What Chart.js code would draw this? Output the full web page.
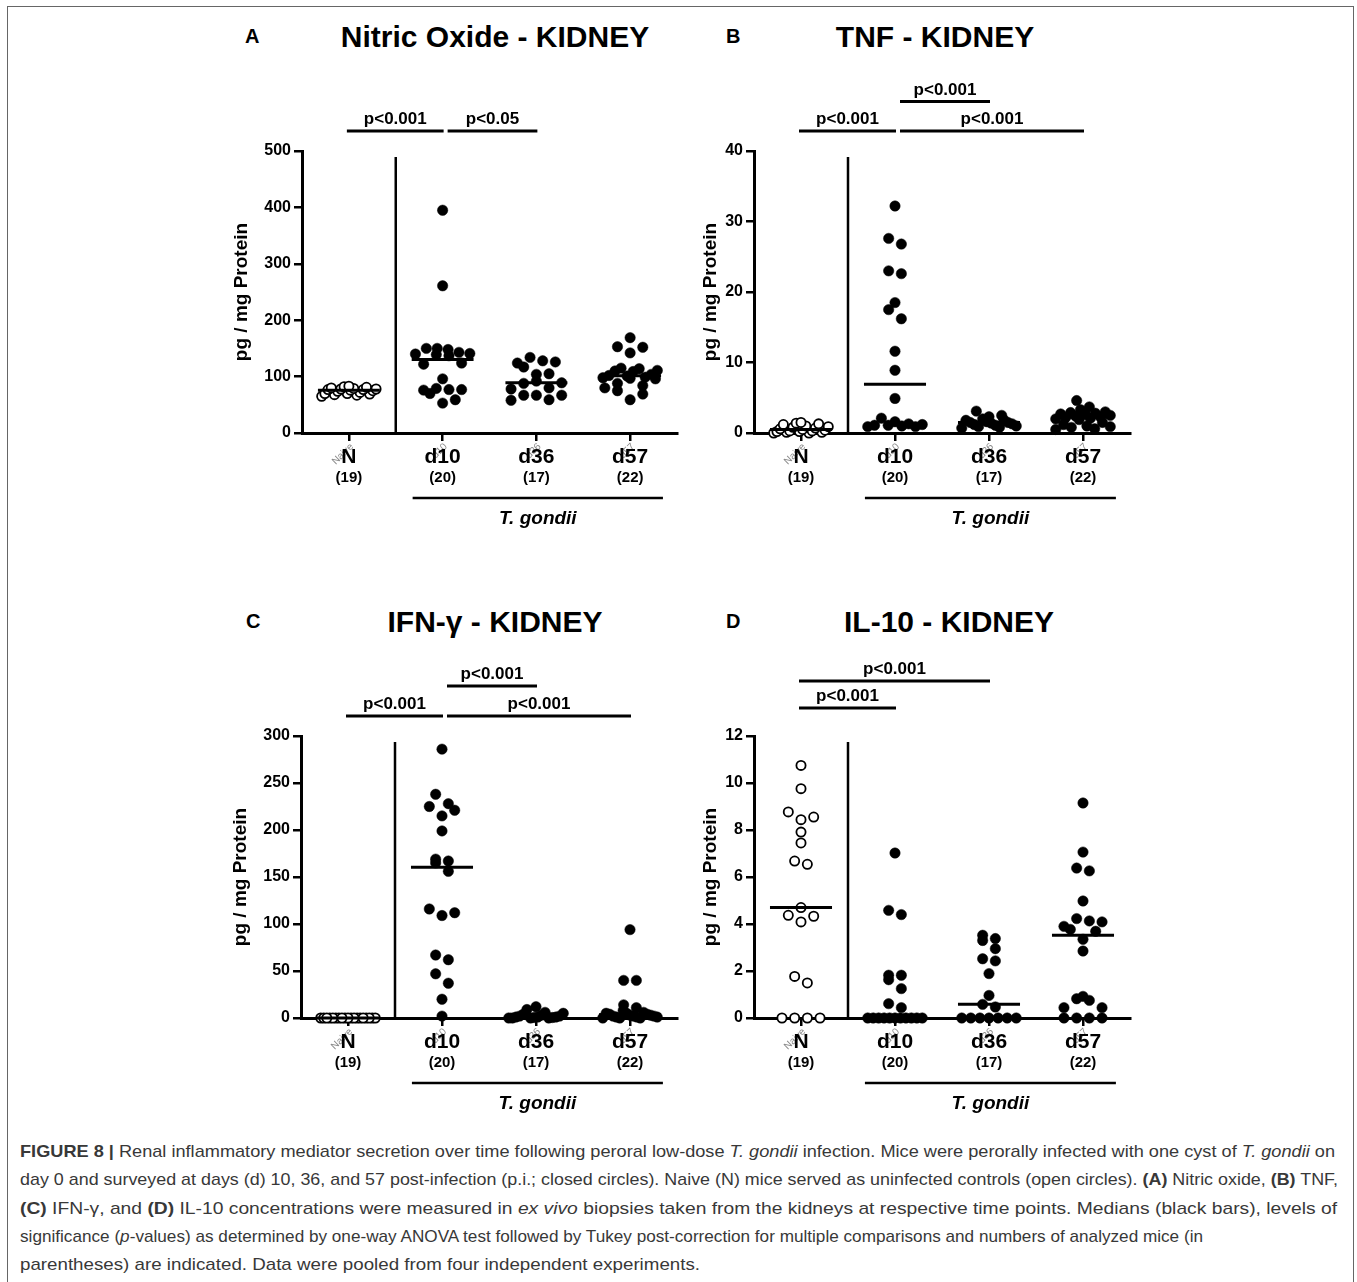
<!DOCTYPE html>
<html>
<head>
<meta charset="utf-8">
<script src="https://cdn.jsdelivr.net/npm/chart.js@4.4.0/dist/chart.umd.min.js"></script>
<style>
  html, body { margin: 0; padding: 0; background: #fff; overflow: hidden; }
  body { width: 1357px; height: 1282px; position: relative; font-family: "Liberation Sans", Arial, sans-serif; color: #000; }
  #frame { position: absolute; left: 7px; top: 6px; width: 1347px; height: 1320px; box-sizing: border-box; border: 1.5px solid #666; border-bottom: none; }
  canvas { position: absolute; }
  .letter { position: absolute; font-weight: bold; font-size: 20px; line-height: 20px; }
  .title { position: absolute; width: 400px; text-align: center; font-weight: bold; font-size: 30px; line-height: 30px; white-space: nowrap; }
  #caption { position: absolute; left: 20px; top: 1138px; color: #383838; font-size: 17px; }
  #caption div { white-space: nowrap; height: 28.3px; line-height: 28.3px; transform-origin: 0 0; display: table; }
</style>
</head>
<body>
<div id="frame"></div>

<div class="letter" style="left:245px; top:26px;">A</div>
<div class="title" style="left:295px; top:22px;">Nitric Oxide - KIDNEY</div>
<div class="letter" style="left:726px; top:26px;">B</div>
<div class="title" style="left:735px; top:22px;">TNF - KIDNEY</div>
<div class="letter" style="left:246px; top:611px;">C</div>
<div class="title" style="left:295px; top:607px;">IFN-γ - KIDNEY</div>
<div class="letter" style="left:726px; top:611px;">D</div>
<div class="title" style="left:749px; top:607px;">IL-10 - KIDNEY</div>

<canvas id="chartA" width="500" height="480" style="left:200px; top:60px;"></canvas>
<canvas id="chartB" width="500" height="480" style="left:650px; top:60px;"></canvas>
<canvas id="chartC" width="500" height="480" style="left:200px; top:645px;"></canvas>
<canvas id="chartD" width="500" height="480" style="left:650px; top:645px;"></canvas>

<div id="caption">
  <div><b>FIGURE 8 |</b> Renal inflammatory mediator secretion over time following peroral low-dose <i>T. gondii</i> infection. Mice were perorally infected with one cyst of <i>T. gondii</i> on</div>
  <div>day 0 and surveyed at days (d) 10, 36, and 57 post-infection (p.i.; closed circles). Naive (N) mice served as uninfected controls (open circles). <b>(A)</b> Nitric oxide, <b>(B)</b> TNF,</div>
  <div><b>(C)</b> IFN-γ, and <b>(D)</b> IL-10 concentrations were measured in <i>ex vivo</i> biopsies taken from the kidneys at respective time points. Medians (black bars), levels of</div>
  <div>significance (<i>p</i>-values) as determined by one-way ANOVA test followed by Tukey post-correction for multiple comparisons and numbers of analyzed mice (in</div>
  <div>parentheses) are indicated. Data were pooled from four independent experiments.</div>
</div>

<script>
const categories = ['N', 'd10', 'd36', 'd57'];
const rawLabels = ['Naive', 'd10', 'd36', 'd57'];

// A - nitric oxide (pg / mg protein)
const noN = [83, 82, 81, 80, 79, 78, 78, 77, 77, 76, 75, 74, 72, 70, 70, 69, 68, 67, 65];
const noD10 = [395, 261, 150, 150, 148, 143, 141, 140, 139, 137, 124, 122, 96, 79, 77, 77, 76, 70, 59, 53];
const noD36 = [134, 128, 126, 124, 117, 105, 104, 92, 89, 88, 80, 78, 67, 67, 67, 59, 58];
const noD57 = [169, 153, 152, 142, 115, 114, 111, 110, 109, 104, 102, 101, 99, 98, 97, 96, 88, 84, 80, 75, 69, 59];

// B - TNF
const tnfN = [1.5, 1.4, 1.3, 1.2, 1.0, 0.9, 0.8, 0.7, 0.6, 0.5, 0.4, 0.3, 0.3, 0.2, 0.2, 0.1, 0.1, 0.0, 0.0];
const tnfD10 = [32.2, 27.6, 26.8, 23.0, 22.6, 18.5, 17.5, 16.2, 11.6, 8.9, 4.9, 2.1, 1.6, 1.3, 1.2, 1.1, 1.1, 1.0, 0.9, 0.9];
const tnfD36 = [3.1, 2.5, 2.3, 2.0, 1.9, 1.8, 1.6, 1.5, 1.5, 1.4, 1.3, 1.2, 1.1, 1.0, 0.9, 0.8, 0.7];
const tnfD57 = [4.6, 3.7, 3.3, 3.0, 2.9, 2.8, 2.7, 2.6, 2.5, 2.4, 2.3, 2.2, 2.1, 2.0, 1.9, 1.5, 1.2, 1.0, 0.9, 0.8, 0.6, 0.5];

// C - IFN-gamma
const ifnN = [0, 0, 0, 0, 0, 0, 0, 0, 0, 0, 0, 0, 0, 0, 0, 0, 0, 0, 0];
const ifnD10 = [286, 238, 228, 225, 221, 215, 199, 169, 167, 165, 156, 116, 112, 109, 67, 62, 47, 37, 20, 2];
const ifnD36 = [12, 9, 6, 5, 4, 3, 2, 2, 1, 1, 1, 0.5, 0.5, 0, 0, 0, 0];
const ifnD57 = [94, 40, 40, 14, 11, 8, 6, 5, 5, 4, 4, 3, 3, 2, 2, 2, 1, 1, 1, 0, 0, 0];

// D - IL-10
const il10N = [10.75, 9.76, 8.77, 8.55, 8.44, 7.91, 7.45, 6.68, 6.54, 4.70, 4.37, 4.33, 4.09, 1.77, 1.49, 0, 0, 0, 0];
const il10D10 = [7.02, 4.58, 4.40, 1.82, 1.82, 1.63, 1.25, 0.61, 0.44, 0, 0, 0, 0, 0, 0, 0, 0, 0, 0, 0];
const il10D36 = [3.52, 3.38, 3.30, 2.95, 2.52, 2.43, 1.89, 0.96, 0.58, 0.47, 0, 0, 0, 0, 0, 0, 0];
const il10D57 = [9.15, 7.06, 6.38, 6.26, 4.98, 4.23, 4.13, 4.09, 3.90, 3.77, 3.69, 3.35, 2.85, 0.92, 0.82, 0.75, 0.44, 0.44, 0, 0, 0, 0];

// significance bars: [from group, to group, label, level]
const sigA = [[0, 1, 'p<0.001', 0], [1, 2, 'p<0.05', 0]];
const sigB = [[0, 1, 'p<0.001', 0], [1, 3, 'p<0.001', 0], [1, 2, 'p<0.001', 1]];
const sigC = [[0, 1, 'p<0.001', 0], [1, 3, 'p<0.001', 0], [1, 2, 'p<0.001', 1]];
const sigD = [[0, 1, 'p<0.001', 0], [0, 2, 'p<0.001', 1]];

const yMaxA = 500, yStepA = 100;
const yMaxB = 40, yStepB = 10;
const yMaxC = 300, yStepC = 50;
const yMaxD = 12, yStepD = 2;

const FONT = '"Liberation Sans", Arial, sans-serif';
Chart.defaults.font.family = FONT;
Chart.defaults.color = '#000';

function median(arr) {
  const s = arr.slice().sort((a, b) => a - b);
  const m = s.length >> 1;
  return s.length % 2 ? s[m] : (s[m - 1] + s[m]) / 2;
}

function gcd(a, b) { return b ? gcd(b, a % b) : a; }

// prism-like scatter: points of similar value share a row, spread around the category
function swarm(values, center, yMax) {
  const bin = yMax * 0.035, step = 0.135, maxHalf = 0.29;
  const sorted = values.slice().sort((a, b) => a - b);
  const pts = [];
  let i = 0;
  while (i < sorted.length) {
    let j = i;
    while (j + 1 < sorted.length && sorted[j + 1] - sorted[i] <= bin) j++;
    const row = sorted.slice(i, j + 1);
    const n = row.length;
    const s = n > 1 ? Math.min(step, 2 * maxHalf / (n - 1)) : 0;
    if (n >= 4) {
      // scatter ranks over the slots so wide rows stay flat
      let stride = Math.max(1, Math.round(n * 0.618));
      while (gcd(stride, n) !== 1) stride++;
      row.forEach((v, k) => {
        const slot = (k * stride) % n;
        pts.push({ x: center + (slot - (n - 1) / 2) * s, y: v });
      });
    } else {
      const slots = [];
      for (let k = 0; k < n; k++) slots.push((k - (n - 1) / 2) * s);
      slots.sort((a, b) => Math.abs(a) - Math.abs(b) || b - a);
      row.forEach((v, k) => pts.push({ x: center + slots[k], y: v }));
    }
    i = j + 1;
  }
  return pts;
}

function makeDecor(panel) {
  return {
    id: 'decor' + panel.id,
    afterDraw(chart) {
      const { ctx, chartArea: area } = chart;
      const x = chart.scales.x;
      ctx.save();
      ctx.strokeStyle = '#000';
      ctx.fillStyle = '#000';

      // divider between naive and infected groups
      const sx = x.getPixelForValue(0.5);
      ctx.lineWidth = 2.5;
      ctx.beginPath(); ctx.moveTo(sx, area.top + 6); ctx.lineTo(sx, area.bottom); ctx.stroke();

      ctx.lineWidth = 3;
      ctx.font = 'bold 17px ' + FONT;
      ctx.textAlign = 'center';
      panel.sig.forEach(([a, b, label, level]) => {
        const y = area.top - panel.sigBase - level * panel.sigGap;
        const x0 = x.getPixelForValue(a) + (a > 0 ? 5 : -2);
        const x1 = x.getPixelForValue(b) + 1;
        ctx.beginPath(); ctx.moveTo(x0, y); ctx.lineTo(x1, y); ctx.stroke();
        ctx.fillText(label, (x0 + x1) / 2, y - 7);
      });

      panel.groups.forEach((g, i) => {
        const cx = x.getPixelForValue(i);
        ctx.save();
        ctx.translate(cx + 3, area.bottom + 12);
        ctx.rotate(-Math.PI / 4);
        ctx.font = '10px ' + FONT;
        ctx.fillStyle = '#8a8a8a';
        ctx.textAlign = 'right';
        ctx.textBaseline = 'middle';
        ctx.fillText(rawLabels[i], 0, 0);
        ctx.restore();
        ctx.font = 'bold 21px ' + FONT;
        ctx.fillText(categories[i], cx, area.bottom + 30);
        ctx.font = 'bold 15px ' + FONT;
        ctx.fillText('(' + g.length + ')', cx, area.bottom + 49);
      });

      const gy = area.bottom + 65;
      const g0 = x.getPixelForValue(0.68), g1 = x.getPixelForValue(3.35);
      ctx.lineWidth = 2.5;
      ctx.beginPath(); ctx.moveTo(g0, gy); ctx.lineTo(g1, gy); ctx.stroke();
      ctx.font = 'italic bold 19px ' + FONT;
      ctx.fillText('T. gondii', (g0 + g1) / 2, area.bottom + 91);
      ctx.restore();
    }
  };
}

function buildChart(panel) {
  const pointSets = panel.groups.map((g, i) => ({
    type: 'scatter',
    data: swarm(g, i, panel.yMax),
    pointStyle: 'circle',
    pointRadius: i === 0 ? 4.6 : 5.2,
    pointBackgroundColor: i === 0 ? '#fff' : '#000',
    pointBorderColor: '#000',
    pointBorderWidth: i === 0 ? 1.8 : 0.5,
    clip: false,
    order: 2
  }));
  const medianData = [];
  panel.groups.forEach((g, i) => {
    const m = median(g);
    medianData.push({ x: i - 0.33, y: m }, { x: i + 0.33, y: m }, { x: i + 0.5, y: null });
  });
  const medianSet = {
    type: 'line',
    data: medianData,
    borderColor: '#000',
    borderWidth: 3,
    pointRadius: 0,
    spanGaps: false,
    clip: false,
    order: 1
  };

  const axisGrid = { drawOnChartArea: false, drawTicks: true, tickLength: 8, lineWidth: 2.5, tickWidth: 2.5, color: '#000', tickColor: '#000' };

  return new Chart(document.getElementById(panel.id), {
    type: 'scatter',
    data: { datasets: [...pointSets, medianSet] },
    options: {
      responsive: false,
      animation: false,
      events: [],
      layout: { padding: panel.padding },
      plugins: { legend: { display: false }, tooltip: { enabled: false } },
      scales: {
        x: {
          type: 'linear',
          min: -0.5,
          max: 3.5,
          ticks: { display: false },
          afterBuildTicks: (s) => { s.ticks = [0, 1, 2, 3].map(v => ({ value: v })); },
          afterFit: (s) => { s.height = 10; },
          grid: axisGrid,
          border: { display: true, color: '#000', width: 3 }
        },
        y: {
          type: 'linear',
          min: 0,
          max: panel.yMax,
          ticks: { stepSize: panel.yStep, font: { weight: 'bold', size: 16 }, color: '#000', padding: 3 },
          afterFit: (s) => { s.width = panel.axisW; },
          grid: axisGrid,
          border: { display: true, color: '#000', width: 3 },
          title: { display: true, text: 'pg / mg Protein', font: { weight: 'bold', size: 19 }, color: '#000', padding: { top: 4, bottom: 4 } }
        }
      }
    },
    plugins: [makeDecor(panel)]
  });
}

const panels = [
  { id: 'chartA', groups: [noN, noD10, noD36, noD57], yMax: yMaxA, yStep: yStepA, sig: sigA, sigBase: 20, sigGap: 29,
    axisW: 76, padding: { left: 26, top: 91, right: 23, bottom: 97 } },
  { id: 'chartB', groups: [tnfN, tnfD10, tnfD36, tnfD57], yMax: yMaxB, yStep: yStepB, sig: sigB, sigBase: 20, sigGap: 29.5,
    axisW: 59, padding: { left: 45, top: 91, right: 20, bottom: 97 } },
  { id: 'chartC', groups: [ifnN, ifnD10, ifnD36, ifnD57], yMax: yMaxC, yStep: yStepC, sig: sigC, sigBase: 20, sigGap: 30,
    axisW: 76, padding: { left: 25, top: 91, right: 23, bottom: 97 } },
  { id: 'chartD', groups: [il10N, il10D10, il10D36, il10D57], yMax: yMaxD, yStep: yStepD, sig: sigD, sigBase: 28, sigGap: 27,
    axisW: 59, padding: { left: 45, top: 91, right: 20, bottom: 97 } }
];

panels.forEach(buildChart);

// stretch caption lines to the widths they have in the original
function fitCaption() {
  const lines = document.querySelectorAll('#caption div');
  const targets = [1315, 1318, 1317, 1183, 680];
  lines.forEach((el, i) => {
    const k = targets[i] / el.getBoundingClientRect().width;
    el.style.transform = 'scaleX(' + k + ')';
  });
}
if (document.fonts && document.fonts.ready) document.fonts.ready.then(fitCaption); else fitCaption();
</script>
</body>
</html>
